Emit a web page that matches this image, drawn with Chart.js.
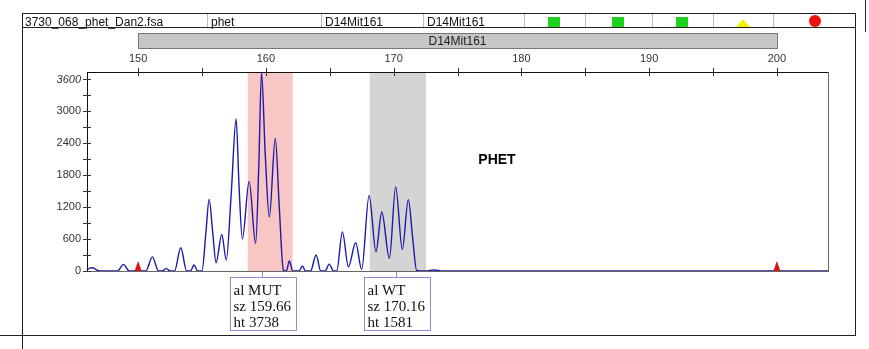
<!DOCTYPE html>
<html lang="en">
  <head>
    <meta charset="UTF-8" />
    <title>D14Mit161 - phet</title>
    <script src="https://cdn.jsdelivr.net/npm/chart.js"></script>
    <style>
      html,
      body {
        margin: 0;
        padding: 0;
        background: #fff;
      }
      #wrap {
        width: 869px;
        height: 349px;
      }
    </style>
  </head>
  <body>
    <div id="wrap"><canvas id="trace" width="869" height="349"></canvas></div>

    <script>
      // blue dye trace: fragment size (bp) and height (rfu)
      const sizes = [
        146.0, 146.2, 146.45, 146.75, 147.0, 148.4, 148.85, 149.3, 150.6, 151.12,
        151.6, 151.9, 152.2, 152.5, 152.85, 153.34, 153.8, 154.1, 154.38, 154.65,
        155.0, 155.3, 155.56, 155.85, 156.1, 156.55, 156.9, 157.3, 157.67, 157.9,
        158.16, 158.69, 159.2, 159.45, 159.66, 159.95, 160.27, 160.74, 161.05, 161.37,
        161.6, 161.84, 162.1, 162.6, 162.86, 163.1, 163.5, 163.93, 164.3, 164.65,
        164.95, 165.3, 165.55, 165.99, 166.46, 167.03, 167.5, 168.08, 168.62, 169.07,
        169.67, 170.16, 170.68, 171.15, 171.5, 171.8, 172.5, 173.16, 173.8, 204.0,
      ];
      const heights = [
        20, 55, 60, 20, 0, 0, 125, 0, 0, 265,
        0, 0, 50, 0, 0, 436, 0, 0, 112, 0,
        0, 700, 1347, 700, 155, 687, 206, 1500, 2857, 1600,
        600, 1684, 518, 2000, 3738, 2200, 1016, 2495, 1200, 20,
        0, 187, 0, 0, 94, 0, 0, 300, 0, 0,
        130, 0, 0, 736, 80, 530, 30, 1422, 361, 1110,
        237, 1581, 406, 1342, 600, 10, 0, 20, 0, 0,
      ];

      const sizeTicks = [150, 155, 160, 165, 170, 175, 180, 185, 190, 195, 200];
      const heightTicks = [0, 300, 600, 900, 1200, 1500, 1800, 2100, 2400, 2700, 3000, 3300, 3600];

      // allele bins (bp)
      const binStarts = [158.58, 168.13];
      const binEnds = [162.1, 172.54];

      // size standard peaks marked on the baseline
      const stdSizes = [150, 200];

      // called alleles
      const alleleNames = ["MUT", "WT"];
      const alleleSizes = [159.66, 170.16];
      const alleleHeights = [3738, 1581];

      // header row
      const headerCells = ["3730_068_phet_Dan2.fsa", "phet", "D14Mit161", "D14Mit161"];
      const markerName = "D14Mit161";

      const sans = "'Liberation Sans', Arial, sans-serif";
      const serif = "'Liberation Serif', 'Times New Roman', serif";

      function line(c, x0, y0, x1, y1) {
        c.beginPath();
        c.moveTo(x0, y0);
        c.lineTo(x1, y1);
        c.stroke();
      }

      const bins = {
        id: "bins",
        beforeDatasetsDraw(chart) {
          const c = chart.ctx;
          const a = chart.chartArea;
          const x = chart.scales.x;
          const colors = ["#f9c6c6", "#d4d4d4"];
          c.save();
          binStarts.forEach((s, i) => {
            const x0 = x.getPixelForValue(s);
            const x1 = x.getPixelForValue(binEnds[i]);
            c.fillStyle = colors[i];
            c.fillRect(x0, a.top, x1 - x0, a.bottom - a.top);
          });
          c.restore();
        },
      };

      const decorations = {
        id: "decorations",
        afterDraw(chart) {
          const c = chart.ctx;
          const a = chart.chartArea;
          const x = chart.scales.x;
          const y = chart.scales.y;
          c.save();
          c.lineWidth = 1;

          // plot box
          c.strokeStyle = "#666";
          c.strokeRect(a.left + 0.5, a.top + 0.5, a.right - a.left, a.bottom - a.top);
          c.strokeStyle = "#111";
          line(c, a.left + 0.5, a.top + 0.5, a.right, a.top + 0.5);
          line(c, a.left + 0.5, a.top, a.left + 0.5, a.bottom);

          // tick marks crossing the axes
          c.strokeStyle = "#333";
          sizeTicks.forEach((v) => {
            const px = Math.round(x.getPixelForValue(v)) + 0.5;
            line(c, px, a.top - 4, px, a.top + 4);
          });
          heightTicks.forEach((v) => {
            const py = Math.round(y.getPixelForValue(v)) + 0.5;
            line(c, a.left - 4, py, a.left + 4, py);
          });

          // size standard markers
          c.fillStyle = "#e01010";
          stdSizes.forEach((v) => {
            const px = x.getPixelForValue(v);
            const py = y.getPixelForValue(0);
            c.beginPath();
            c.moveTo(px - 3.5, py);
            c.lineTo(px + 3.5, py);
            c.lineTo(px, py - 10);
            c.closePath();
            c.fill();
          });

          // sample label
          c.fillStyle = "#000";
          c.font = "bold 14px " + sans;
          c.textAlign = "center";
          c.textBaseline = "middle";
          c.fillText("PHET", 497, 160);

          // allele call boxes
          c.textAlign = "left";
          c.textBaseline = "alphabetic";
          c.font = "15px " + serif;
          alleleNames.forEach((name, i) => {
            const px = Math.round(x.getPixelForValue(alleleSizes[i])) + 0.5;
            const bx = Math.round(px - 33) + 0.5;
            const by = 277.5;
            c.strokeStyle = "#8c8cd0";
            line(c, px, a.bottom + 1, px, by);
            c.strokeRect(bx, by, 66, 53);
            c.fillStyle = "#111";
            c.fillText("al " + name, bx + 3, by + 17);
            c.fillText("sz " + alleleSizes[i].toFixed(2), bx + 3, by + 33);
            c.fillText("ht " + alleleHeights[i], bx + 3, by + 49);
          });

          // marker bin bar
          const b0 = x.getPixelForValue(150);
          const b1 = x.getPixelForValue(200);
          c.fillStyle = "#c6c6c6";
          c.fillRect(b0, 33, b1 - b0, 16);
          c.strokeStyle = "#777";
          c.strokeRect(Math.round(b0) + 0.5, 33.5, Math.round(b1 - b0), 15);
          c.fillStyle = "#222";
          c.font = "12px " + sans;
          c.textAlign = "center";
          c.textBaseline = "middle";
          c.fillText(markerName, (b0 + b1) / 2, 41.5);

          // header row
          c.strokeStyle = "#222";
          c.strokeRect(22.5, 13.5, 833, 14);
          const seps = [207, 321, 423, 524, 585, 652, 713, 773];
          c.strokeStyle = "#bbb";
          seps.forEach((s) => line(c, s + 0.5, 14, s + 0.5, 27));
          const starts = [25, 211, 325, 427];
          c.fillStyle = "#111";
          c.font = "12px " + sans;
          c.textAlign = "left";
          c.textBaseline = "alphabetic";
          headerCells.forEach((t, i) => c.fillText(t, starts[i], 26));

          c.fillStyle = "#1ed21e";
          [554, 618, 682].forEach((cx) => c.fillRect(cx - 6, 17, 12, 10));
          c.fillStyle = "#f4f000";
          c.beginPath();
          c.moveTo(736, 27);
          c.lineTo(750, 27);
          c.lineTo(743, 19);
          c.closePath();
          c.fill();
          c.fillStyle = "#ee1010";
          c.beginPath();
          c.arc(815, 21, 6, 0, Math.PI * 2);
          c.fill();

          // panel frame
          c.strokeStyle = "#222";
          line(c, 22.5, 27, 22.5, 349);
          line(c, 855.5, 27, 855.5, 335.5);
          line(c, 0, 335.5, 856, 335.5);
          line(c, 865.5, 0, 865.5, 32);
          c.restore();
        },
      };

      const ctx = document.getElementById("trace").getContext("2d");

      new Chart(ctx, {
        type: "line",
        data: {
          labels: sizes,
          datasets: [
            {
              data: sizes.map((s, i) => ({ x: s, y: heights[i] })),
              borderColor: "#1b1ba6",
              borderWidth: 1.4,
              pointRadius: 0,
              cubicInterpolationMode: "monotone",
              fill: false,
            },
          ],
        },
        options: {
          responsive: false,
          animation: false,
          events: [],
          layout: { padding: { left: 0, right: 41, top: 0, bottom: 78 } },
          plugins: {
            legend: { display: false },
            tooltip: { enabled: false },
          },
          scales: {
            x: {
              type: "linear",
              position: "top",
              min: 146,
              max: 204,
              afterBuildTicks: (scale) => {
                scale.ticks = sizeTicks.map((v) => ({ value: v }));
              },
              afterFit: (scale) => {
                scale.height = 72;
              },
              grid: { display: false, drawTicks: false },
              border: { display: false },
              ticks: {
                autoSkip: false,
                maxRotation: 0,
                padding: 6,
                color: "#333",
                font: { size: 11, family: sans },
                callback: (v) => (v % 10 === 0 ? v : ""),
              },
            },
            y: {
              min: 0,
              max: 3740,
              afterBuildTicks: (scale) => {
                scale.ticks = heightTicks.map((v) => ({ value: v }));
              },
              afterFit: (scale) => {
                scale.width = 87;
              },
              grid: { display: false, drawTicks: false },
              border: { display: false },
              ticks: {
                autoSkip: false,
                padding: 6,
                color: "#333",
                font: (c) => ({
                  size: 11,
                  family: sans,
                  style: c.tick && c.tick.value === 3600 ? "italic" : "normal",
                }),
                callback: (v) => (v % 600 === 0 ? v : ""),
              },
            },
          },
        },
        plugins: [bins, decorations],
      });
    </script>
  </body>
</html>
